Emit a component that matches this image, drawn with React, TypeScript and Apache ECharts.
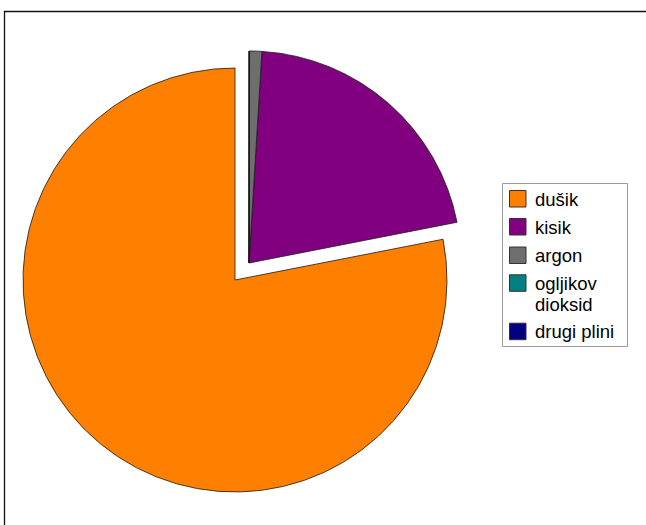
import React, { useEffect, useRef } from "react";
import * as echarts from "echarts";

const categories = ["dušik", "kisik", "argon", "ogljikov dioksid", "drugi plini"];
const legendLabels = ["dušik", "kisik", "argon", "ogljikov\ndioksid", "drugi plini"];
const values = [78.08, 20.95, 0.93, 0.04, 0.003];
const colors = ["#ff8000", "#800080", "#6e6e6e", "#008080", "#000080"];

export default function App() {
  const ref = useRef<HTMLDivElement>(null);
  useEffect(() => {
    if (!ref.current) return;
    const chart = echarts.init(ref.current, null, { renderer: "svg" });
    const border = { borderColor: "#1a1a1a", borderWidth: 0.8 };
    const hidden = { color: "rgba(0,0,0,0)", borderWidth: 0 };
    const restSum = values.slice(1).reduce((a, b) => a + b, 0);

    const series1Data = [
      { name: categories[0], value: values[0], itemStyle: { color: colors[0], ...border } },
      { name: "_rest", value: restSum, itemStyle: hidden },
    ];
    const series2Data = [
      { name: "_gap", value: values[0], itemStyle: hidden },
      ...categories.slice(1).map((c, i) => ({
        name: c,
        value: values[i + 1],
        itemStyle: { color: colors[i + 1], ...border },
      })),
    ];

    const rowTops = [190, 218, 246.5, 274.3, 322.7];
    const legendEls: any[] = [
      {
        type: "rect",
        shape: { x: 502.5, y: 183.5, width: 125, height: 163 },
        style: { fill: "#fff", stroke: "#999", lineWidth: 1 },
      },
    ];
    legendLabels.forEach((lbl, i) => {
      legendEls.push({
        type: "rect",
        shape: { x: 509.5, y: rowTops[i] + 0.5, width: 16.5, height: 16.5 },
        style: { fill: colors[i], stroke: "#333", lineWidth: 1 },
      });
      legendEls.push({
        type: "text",
        x: 535,
        y: rowTops[i] + 9,
        style: {
          text: lbl,
          fill: "#000",
          font: "18.5px 'Liberation Sans', Arial, sans-serif",
          lineHeight: 21,
          textVerticalAlign: "top",
          verticalAlign: "top",
          y: 0,
        },
      });
    });
    // adjust text: position top so first line centered on square
    legendEls.forEach((el) => {
      if (el.type === "text") {
        el.y = el.y - 10.5;
      }
    });

    chart.setOption({
      animation: false,
      graphic: [
        {
          type: "polyline",
          shape: { points: [[4.5, 530], [4.5, 11.5], [650, 11.5]] },
          style: { stroke: "#111", lineWidth: 1.3, fill: "none" },
          silent: true,
        },
        ...legendEls,
      ],
      series: [
        {
          type: "pie",
          center: [235, 280],
          radius: 212,
          startAngle: 90,
          clockwise: false,
          label: { show: false },
          labelLine: { show: false },
          emphasis: { disabled: true },
          silent: true,
          data: series1Data,
        },
        {
          type: "pie",
          center: [249, 263],
          radius: 212,
          startAngle: 90,
          clockwise: false,
          label: { show: false },
          labelLine: { show: false },
          emphasis: { disabled: true },
          silent: true,
          data: series2Data,
        },
      ],
    });
    return () => chart.dispose();
  }, []);
  return (
    <div
      ref={ref}
      style={{ position: "absolute", left: 0, top: 0, width: 646, height: 525, background: "#fff" }}
    />
  );
}
